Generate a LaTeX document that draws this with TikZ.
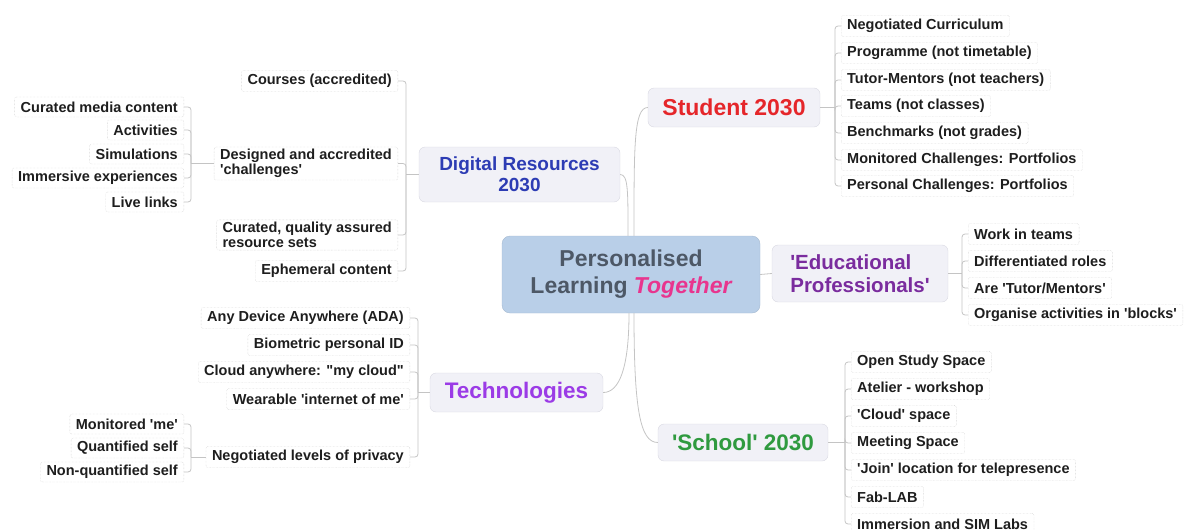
\documentclass[tikz,border=0pt]{standalone}
\usepackage{fontspec}
\setmainfont{Liberation Sans}[Ligatures=TeXOff]
\usetikzlibrary{calc}
\usetikzlibrary{positioning}
\definecolor{hubfill}{HTML}{B9CFE8}
\definecolor{hubtext}{HTML}{4D5866}
\definecolor{hotpink}{HTML}{E8358E}
\definecolor{topicfill}{HTML}{F1F1F7}
\definecolor{topicline}{HTML}{D9D9E2}
\definecolor{leafline}{HTML}{C4C4C4}
\definecolor{leaftext}{HTML}{1E1E1E}
\definecolor{digiblue}{HTML}{2D3CB4}
\definecolor{studred}{HTML}{E5262A}
\definecolor{eduviolet}{HTML}{7A2C9E}
\definecolor{techviolet}{HTML}{9B3BE6}
\definecolor{schoolgreen}{HTML}{2F9A3F}
\tikzstyle{hub}=[%
  draw=hubfill!90!black,
  fill=hubfill,
  rounded corners=8pt,
  minimum width=258pt,
  minimum height=77pt,
  align=center,
  text=hubtext,
  font=\fontsize{23}{27}\selectfont\bfseries
]
\tikzstyle{topic}=[%
  draw=topicline,
  fill=topicfill,
  rounded corners=6pt,
  font=\bfseries
]
\tikzstyle{leaf}=[%
  draw=leafline,
  densely dotted,
  fill=white,
  rounded corners=2pt,
  inner xsep=6pt,
  inner ysep=2pt,
  minimum height=21pt,
  align=left,
  text=leaftext,
  font=\fontsize{14.5}{15.5}\selectfont\bfseries
]
\tikzstyle{branch}=[draw=leafline, line width=0.8pt, rounded corners=3pt]

\begin{document}
\begin{tikzpicture}[x=1pt, y=-1pt]
      \useasboundingbox (0,0) rectangle (1184,530);
      % main ideas
      \node[hub] (centre) at (631,274.5) {Personalised\\Learning \textcolor{hotpink}{\itshape Together}};
      \node[topic, minimum width=201pt, minimum height=55pt, align=center, text=digiblue,
        font=\fontsize{19}{21}\selectfont\bfseries] (digital) at (519.5,174.5) {Digital Resources\\2030};
      \node[topic, minimum width=172pt, minimum height=39pt, text=studred,
        font=\fontsize{23}{26}\selectfont\bfseries] (student) at (734,107.5) {Student 2030};
      \node[topic, minimum width=176pt, minimum height=57pt, align=left, text=eduviolet,
        font=\fontsize{20.5}{23}\selectfont\bfseries] (educ) at (860,273.5) {'Educational\\Professionals'};
      \node[topic, minimum width=173pt, minimum height=39pt, text=techviolet,
        font=\fontsize{22.5}{25}\selectfont\bfseries] (tech) at (516.5,392.5) {Technologies};
      \node[topic, minimum width=170pt, minimum height=37pt, text=schoolgreen,
        font=\fontsize{22.5}{25}\selectfont\bfseries] (school) at (743,442.5) {'School' 2030};
      \draw[branch] ([xshift=-3pt]centre.north) .. controls +(0,-45) and +(8,0) .. (digital.east);
      \draw[branch] ([xshift=3pt]centre.north) .. controls +(0,-90) and +(-14,0) .. (student.west);
      \draw[branch] (centre.east) -- (educ.west);
      \draw[branch] ([xshift=-2pt]centre.south) .. controls +(0,55) and +(16,0) .. (tech.east);
      \draw[branch] ([xshift=3pt]centre.south) .. controls +(0,95) and +(-18,0) .. (school.west);
      % bus points
      \coordinate (sbus) at (835,107.5);
      \coordinate (ebus) at (962,273.5);
      \coordinate (kbus) at (845,442.5);
      \coordinate (dbus) at (406,174.5);
      \coordinate (tbus) at (418,392.5);
      \draw[branch] (student.east) -- (sbus);
      \draw[branch] (educ.east) -- (ebus);
      \draw[branch] (school.east) -- (kbus);
      \draw[branch] (digital.west) -- (dbus);
      \draw[branch] (tech.west) -- (tbus);
      % Student 2030
      \foreach \nm/\ypos/\txt in {s1/26/Negotiated Curriculum, s2/53/Programme (not timetable),
        s3/80/Tutor-Mentors (not teachers), s4/106/Teams (not classes), s5/133/Benchmarks (not grades),
        s6/160/Monitored Challenges: Portfolios, s7/186/Personal Challenges: Portfolios} {%
        \node[leaf, anchor=west] (\nm) at (841,\ypos) {\txt};
        \draw[branch] (sbus) |- (\nm.west);
      }
      % Educational Professionals
      \foreach \nm/\ypos/\txt in {e1/234/Work in teams, e2/261/Differentiated roles,
        e3/288/{Are 'Tutor/Mentors'}, e4/315/Organise activities in 'blocks'} {%
        \node[leaf, anchor=west] (\nm) at (968,\ypos) {\txt};
        \draw[branch] (ebus) |- (\nm.west);
      }
      % School 2030
      \foreach \nm/\ypos/\txt in {k1/362/Open Study Space, k2/389/Atelier - workshop,
        k3/416/'Cloud' space, k4/443/Meeting Space, k5/470/'Join' location for telepresence,
        k6/497/Fab-LAB, k7/524/Immersion and SIM Labs} {%
        \node[leaf, anchor=west] (\nm) at (851,\ypos) {\txt};
        \draw[branch] (kbus) |- (\nm.west);
      }
      % Digital Resources 2030
      \foreach \nm/\ypos/\txt in {d1/81/Courses (accredited), d2/163.5/{Designed and accredited\\'challenges'},
        d3/235/{Curated, quality assured\\resource sets}, d4/271/Ephemeral content} {%
        \node[leaf, anchor=east] (\nm) at (398,\ypos) {\txt};
        \draw[branch] (dbus) |- (\nm.east);
      }
      \coordinate (cbus) at (191,163.5);
      \draw[branch] (d2.west) -- (cbus);
      \foreach \nm/\ypos/\txt in {c1/107/Curated media content, c2/130/Activities, c3/154/Simulations,
        c4/178/Immersive experiences, c5/202/Live links} {%
        \node[leaf, anchor=east, minimum height=20pt] (\nm) at (184,\ypos) {\txt};
        \draw[branch] (cbus) |- (\nm.east);
      }
      % Technologies
      \foreach \nm/\ypos/\txt in {t1/318/Any Device Anywhere (ADA), t2/345/Biometric personal ID,
        t3/372/Cloud anywhere: "my cloud", t4/399/Wearable 'internet of me',
        t5/457/Negotiated levels of privacy} {%
        \node[leaf, anchor=east] (\nm) at (410,\ypos) {\txt};
        \draw[branch] (tbus) |- (\nm.east);
      }
      \coordinate (pbus) at (191,457);
      \draw[branch] (t5.west) -- (pbus);
      \foreach \nm/\ypos/\txt in {p1/424/Monitored 'me', p2/448/Quantified self, p3/472/Non-quantified self} {%
        \node[leaf, anchor=east, minimum height=20pt] (\nm) at (184,\ypos) {\txt};
        \draw[branch] (pbus) |- (\nm.east);
      }
    \end{tikzpicture}
\end{document}
